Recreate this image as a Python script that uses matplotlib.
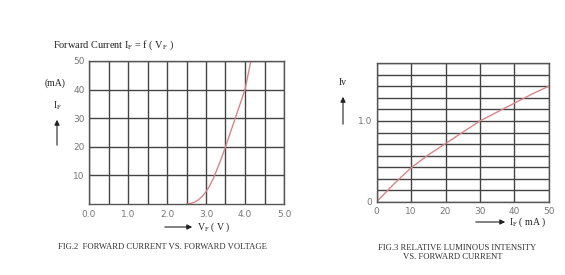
import numpy as np
import matplotlib
matplotlib.use("Agg")
import matplotlib.pyplot as plt
from matplotlib.patches import FancyArrowPatch

plt.rcParams['font.family'] = ['Liberation Serif', 'DejaVu Serif']
plt.rcParams['mathtext.fontset'] = 'custom'
plt.rcParams['mathtext.rm'] = 'Liberation Serif'

# FIG.2 forward current vs forward voltage
vf = [2.5, 2.6, 2.7, 2.8, 2.9, 3.0, 3.1, 3.2, 3.3, 3.4, 3.5, 3.6, 3.75, 3.9, 4.0, 4.15]
i_f = [0, 0.2, 0.6, 1.4, 2.6, 4.3, 6.5, 9.3, 12.7, 16.2, 20, 24, 30, 36, 40, 50]
vf_labels = ["0.0", "1.0", "2.0", "3.0", "4.0", "5.0"]
if_labels = ["10", "20", "30", "40", "50"]

# FIG.3 relative luminous intensity vs forward current
cur = [0, 5, 10, 15, 20, 25, 30, 35, 40, 45, 50]
iv = [0, 0.22, 0.42, 0.58, 0.72, 0.86, 1.0, 1.11, 1.22, 1.33, 1.43]

W, H = 565, 275
fig = plt.figure(figsize=(W / 100, H / 100), dpi=100)


def fx(x):
    return x / W


def fy(y):
    return 1 - y / H


grid_col = '#444444'
tick_col = '#777777'
curve_col = '#d98585'

# ---- left chart
ax1 = fig.add_axes([fx(89), fy(204), (284 - 89) / W, (204 - 61) / H])
ax1.plot(vf, i_f, color=curve_col, lw=1.0)
ax1.set_xlim(0, 5)
ax1.set_ylim(0, 50)
ax1.set_xticks(np.arange(0, 6, 1.0))
ax1.set_xticklabels(vf_labels)
ax1.set_xticks(np.arange(0.5, 5, 1.0), minor=True)
ax1.set_yticks(np.arange(10, 51, 10))
ax1.set_yticklabels(if_labels)
ax1.grid(True, which='both', color=grid_col, lw=1.0)

# ---- right chart
ax2 = fig.add_axes([fx(376.7), fy(201.7), (548.7 - 376.7) / W, (201.7 - 63.3) / H])
ax2.plot(cur, iv, color=curve_col, lw=1.0)
ax2.set_xlim(0, 50)
ax2.set_ylim(0, 12 / 7)
ax2.set_xticks(np.arange(0, 51, 10))
ax2.set_yticks([0, 1.0])
ax2.set_yticklabels(["0", "1.0"])
ax2.set_yticks([k / 7 for k in range(1, 13) if k != 7], minor=True)
ax2.grid(True, which='both', color=grid_col, lw=1.0)

for ax in (ax1, ax2):
    ax.set_axisbelow(True)
    ax.tick_params(which='both', length=0, labelsize=6.5, labelcolor=tick_col)
    ax.tick_params(axis='x', pad=4)
    ax.tick_params(axis='y', pad=3)
    for lab in ax.get_xticklabels() + ax.get_yticklabels():
        lab.set_family('DejaVu Sans')
    for s in ax.spines.values():
        s.set_color('#555555')
        s.set_linewidth(1.0)

txt = dict(fontsize=7, color='#222222')
cap = dict(fontsize=6.2, color='#333333', ha='center', va='center')


def arrow(x0, y0, x1, y1):
    fig.add_artist(FancyArrowPatch(
        (fx(x0), fy(y0)), (fx(x1), fy(y1)), transform=fig.transFigure,
        arrowstyle='-|>,head_length=3,head_width=1.5', color='#222222', lw=0.8))


# left annotations
fig.text(fx(53), fy(45), r'Forward Current I$_\mathregular{F}$ = f ( V$_\mathregular{F}$ )',
         ha='left', va='center', fontsize=7.4, color='#222222')
fig.text(fx(55), fy(83), '(mA)', ha='center', va='center', **txt)
fig.text(fx(57), fy(106), r'I$_\mathregular{F}$', ha='center', va='center', **txt)
arrow(57, 148, 57, 117)
arrow(162, 227, 195, 227)
fig.text(fx(197), fy(227), r'V$_\mathregular{F}$ ( V )', ha='left', va='center', **txt)
fig.text(fx(162), fy(247), 'FIG.2  FORWARD CURRENT VS. FORWARD VOLTAGE', **cap)

# right annotations
fig.text(fx(343), fy(83), 'Iv', ha='center', va='center', **txt)
arrow(343, 127, 343, 94)
arrow(473, 222, 508, 222)
fig.text(fx(509), fy(222), r'I$_\mathregular{F}$ ( mA )', ha='left', va='center', **txt)
fig.text(fx(457), fy(248), 'FIG.3 RELATIVE LUMINOUS INTENSITY', **cap)
fig.text(fx(453), fy(257), 'VS. FORWARD CURRENT', **cap)

fig.savefig('out.png', dpi=100)
